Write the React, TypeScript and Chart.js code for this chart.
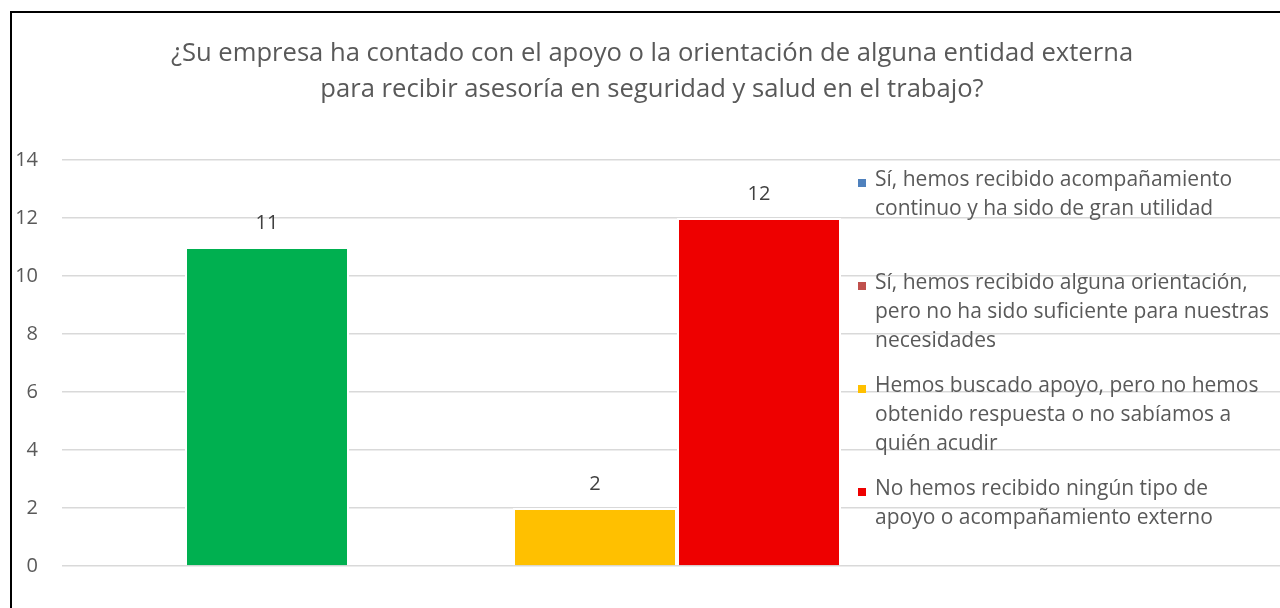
import React, { useEffect, useRef } from "react";
import { Chart, registerables } from "chart.js";

Chart.register(...registerables);

const titleLines = [
  "¿Su empresa ha contado con el apoyo o la orientación de alguna entidad externa",
  "para recibir asesoría en seguridad y salud en el trabajo?",
];

const categories = [""];

const seriesNames = [
  "Sí, hemos recibido acompañamiento continuo y ha sido de gran utilidad",
  "Sí, hemos recibido alguna orientación, pero no ha sido suficiente para nuestras necesidades",
  "Hemos buscado apoyo, pero no hemos obtenido respuesta o no sabíamos a quién acudir",
  "No hemos recibido ningún tipo de apoyo o acompañamiento externo",
  "",
  "",
];

const legendLines = [
  ["Sí, hemos recibido acompañamiento", "continuo y ha sido de gran utilidad", ""],
  ["Sí, hemos recibido alguna orientación,", "pero no ha sido suficiente para nuestras", "necesidades"],
  ["Hemos buscado apoyo, pero no hemos", "obtenido respuesta o no sabíamos a", "quién acudir"],
  ["No hemos recibido ningún tipo de", "apoyo o acompañamiento externo"],
];

const serie1 = [11];
const serie2: (number | null)[] = [null];
const serie3 = [2];
const serie4 = [12];
const serie5: (number | null)[] = [null];
const serie6: (number | null)[] = [null];

const barColors = ["#00B050", "#C0504D", "#FFC000", "#EE0000", "#FFFFFF", "#FFFFFF"];
const legendColors = ["#4F81BD", "#C0504D", "#FFC000", "#EE0000"];

const yMin = 0;
const yMax = 14;
const yStep = 2;

const FONT = "'Open Sans', 'Noto Sans', sans-serif";

const dataLabelPlugin = {
  id: "dataLabels",
  afterDatasetsDraw(chart: any) {
    const ctx = chart.ctx;
    ctx.save();
    ctx.font = `20px ${FONT}`;
    ctx.fillStyle = "#404040";
    ctx.textAlign = "center";
    ctx.textBaseline = "middle";
    chart.data.datasets.forEach((ds: any, i: number) => {
      const meta = chart.getDatasetMeta(i);
      meta.data.forEach((el: any, j: number) => {
        const v = ds.data[j];
        if (v == null) return;
        ctx.fillText(String(v), el.x, el.y - 24);
      });
    });
    ctx.restore();
  },
};

export default function App() {
  const canvasRef = useRef<HTMLCanvasElement | null>(null);

  useEffect(() => {
    if (!canvasRef.current) return;
    const all = [serie1, serie2, serie3, serie4, serie5, serie6];
    const chart = new Chart(canvasRef.current, {
      type: "bar",
      data: {
        labels: categories,
        datasets: all.map((d, i) => ({
          label: seriesNames[i],
          data: d,
          backgroundColor: barColors[i],
          borderColor: "#FFFFFF",
          borderWidth: 2,
          borderSkipped: "bottom",
          categoryPercentage: 0.8,
          barPercentage: 1.0,
        })),
      },
      options: {
        responsive: false,
        animation: false,
        events: [],
        layout: { padding: { left: 12, right: 14, top: 0, bottom: 42 } },
        plugins: {
          legend: { display: false },
          tooltip: { enabled: false },
          title: {
            display: true,
            text: titleLines,
            color: "#595959",
            font: { family: FONT, size: 25.6, weight: "normal", lineHeight: "36px" },
            padding: { top: 36, bottom: 52 },
          },
        },
        scales: {
          x: { display: false },
          y: {
            min: yMin,
            max: yMax,
            afterFit: (scale: any) => {
              scale.width = 50;
            },
            border: { display: false },
            grid: { color: "#D9D9D9", lineWidth: 1.5, drawTicks: false },
            ticks: {
              stepSize: yStep,
              padding: 24,
              color: "#595959",
              font: { family: FONT, size: 20 },
            },
          },
        },
      },
      plugins: [dataLabelPlugin],
    });
    return () => chart.destroy();
  }, []);

  return (
    <div
      style={{
        position: "fixed",
        left: 0,
        top: 0,
        width: 1280,
        height: 608,
        overflow: "hidden",
        background: "#FFFFFF",
      }}
    >
      <div
        style={{
          position: "absolute",
          left: 10,
          top: 11,
          width: 1400,
          height: 700,
          borderLeft: "2px solid #000",
          borderTop: "2px solid #000",
        }}
      />
      <canvas
        ref={canvasRef}
        width={1306}
        height={608}
        style={{ position: "absolute", left: 0, top: 0 }}
      />
      <div
        style={{
          position: "absolute",
          left: 858,
          top: 164,
          display: "flex",
          flexDirection: "column",
          gap: 16,
          fontFamily: FONT,
          fontSize: 21,
          lineHeight: "29px",
          color: "#595959",
        }}
      >
        {legendLines.map((lines, i) => (
          <div key={i} style={{ position: "relative", paddingLeft: 17 }}>
            <div
              style={{
                position: "absolute",
                left: 0,
                top: 15,
                width: 8,
                height: 8,
                background: legendColors[i],
              }}
            />
            {lines.map((ln, k) => (
              <div key={k} style={{ height: 29, whiteSpace: "nowrap" }}>
                {ln}
              </div>
            ))}
          </div>
        ))}
      </div>
    </div>
  );
}
